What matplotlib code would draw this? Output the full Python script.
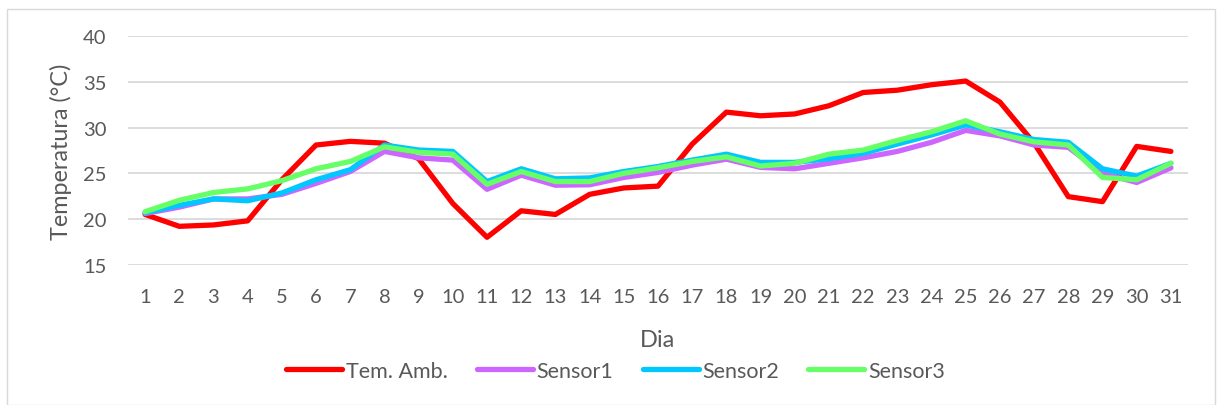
import matplotlib
matplotlib.use("Agg")
import matplotlib.pyplot as plt
from matplotlib.patches import Rectangle

plt.rcParams['font.family'] = ['Lato', 'DejaVu Sans']

days = list(range(1, 32))

tem_amb = [20.5, 19.2, 19.35, 19.8, 24.3, 28.1, 28.5, 28.3, 26.6, 21.7,
           18.0, 20.9, 20.5, 22.7, 23.4, 23.6, 28.2, 31.7, 31.3, 31.5,
           32.4, 33.85, 34.1, 34.7, 35.1, 32.8, 28.3, 22.45, 21.9, 27.95, 27.4]
sensor1 = [20.6, 21.3, 22.2, 22.2, 22.7, 23.9, 25.2, 27.4, 26.7, 26.45,
           23.25, 24.8, 23.7, 23.75, 24.55, 25.1, 25.9, 26.55, 25.65, 25.5,
           26.1, 26.7, 27.4, 28.4, 29.7, 29.1, 28.1, 27.85, 25.0, 24.0, 25.6]
sensor2 = [20.7, 21.5, 22.2, 22.0, 22.85, 24.3, 25.4, 28.1, 27.55, 27.4,
           24.1, 25.5, 24.4, 24.5, 25.2, 25.75, 26.45, 27.1, 26.2, 26.2,
           26.6, 27.2, 28.2, 29.2, 30.3, 29.55, 28.7, 28.4, 25.5, 24.7, 26.1]
sensor3 = [20.8, 22.05, 22.9, 23.3, 24.2, 25.5, 26.3, 27.9, 27.3, 27.1,
           23.8, 25.2, 24.1, 24.1, 25.0, 25.6, 26.3, 26.8, 25.8, 26.1,
           27.1, 27.55, 28.6, 29.55, 30.75, 29.3, 28.45, 28.1, 24.55, 24.3, 26.1]

series = [
    ("Tem. Amb.", tem_amb, "#FF0000"),
    ("Sensor1", sensor1, "#CC66FF"),
    ("Sensor2", sensor2, "#00C8FF"),
    ("Sensor3", sensor3, "#66FF66"),
]
y_ticks = [15, 20, 25, 30, 35, 40]

text_color = "#595959"
W, H = 1218, 406
fig = plt.figure(figsize=(W / 100, H / 100), dpi=100)

# chart frame
fig.patches.append(Rectangle((7 / W, 0), (1215 - 7) / W, 1 - 10 / H,
                             transform=fig.transFigure, fill=False,
                             edgecolor="#D9D9D9", linewidth=1.0))

ax = fig.add_axes([128 / W, 1 - 265.7 / H, (1188 - 128) / W, (265.7 - 37.3) / H])

for name, vals, col in series:
    ax.plot(days, vals, color=col, linewidth=3.8, label=name,
            solid_joinstyle="round", solid_capstyle="round")

ax.set_xlim(0.5, 31.5)
ax.set_ylim(15, 40)
ax.set_yticks(y_ticks)
ax.set_xticks(days)
ax.grid(axis="y", color="#D9D9D9", linewidth=1.3)
ax.set_axisbelow(True)
for s in ax.spines.values():
    s.set_visible(False)
ax.tick_params(axis="both", length=0, labelsize=14.5, labelcolor=text_color)
ax.tick_params(axis="y", pad=15.5)
ax.tick_params(axis="x", pad=17)

ax.set_xlabel("Dia", fontsize=17, color=text_color, labelpad=17)
ax.set_ylabel("Temperatura (°C)", fontsize=16.8, color=text_color, labelpad=8)

leg = fig.legend(loc="center", bbox_to_anchor=(615.5 / W, 1 - 372 / H), ncol=4,
                 frameon=False, fontsize=15.5, handlelength=2.6,
                 handletextpad=0.18, columnspacing=1.35)
for t in leg.get_texts():
    t.set_color(text_color)
for h in leg.get_lines():
    h.set_linewidth(3.8)
    h.set_solid_capstyle("round")

fig.savefig("out.png", dpi=100)
